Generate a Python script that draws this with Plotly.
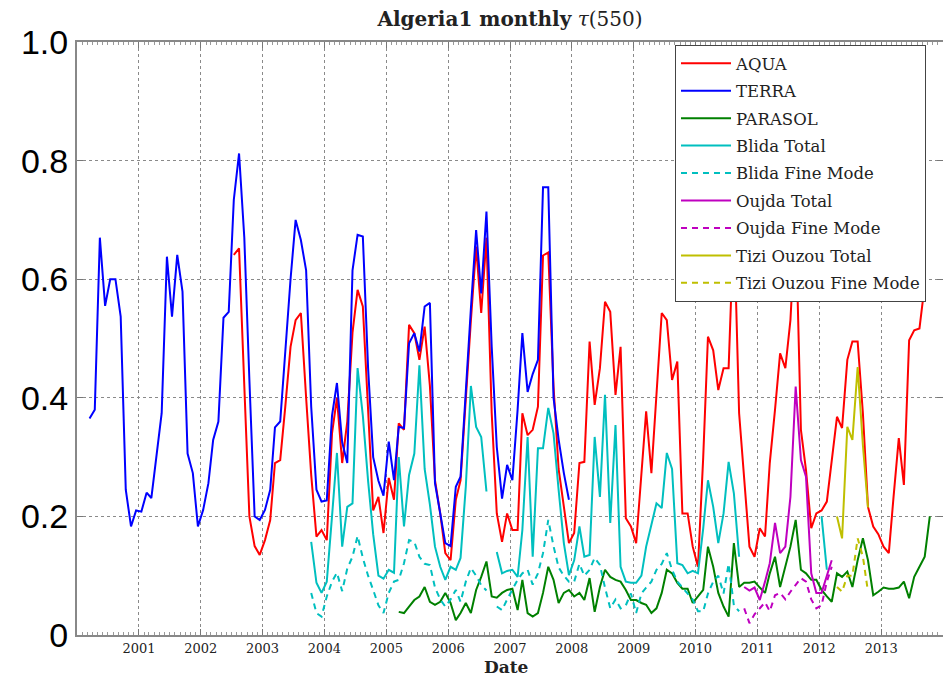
import plotly.graph_objects as go

# ---------------- data (monthly means) ----------------
TERRA_START = (2000, 3)
TERRA = [0.365, 0.38, 0.67, 0.555, 0.60, 0.60, 0.537, 0.245, 0.183, 0.21,
         0.208, 0.24, 0.231, 0.30, 0.374, 0.638, 0.537, 0.641, 0.579, 0.306, 0.273, 0.183,
         0.211, 0.256, 0.329, 0.36, 0.535, 0.545, 0.734, 0.812, 0.67, 0.43, 0.20, 0.194,
         0.211, 0.245, 0.35, 0.36, 0.486, 0.60, 0.70, 0.666, 0.615, 0.385, 0.245, 0.225,
         0.227, 0.37, 0.425, 0.325, 0.29, 0.615, 0.675, 0.672, 0.45, 0.30, 0.26, 0.235,
         0.326, 0.261, 0.351, 0.349, 0.492, 0.509, 0.478, 0.554, 0.56, 0.256, 0.205, 0.155,
         0.15, 0.25, 0.267, 0.418, 0.55, 0.683, 0.576, 0.714, 0.486, 0.317, 0.23, 0.287,
         0.261, 0.38, 0.509, 0.41, 0.44, 0.464, 0.755, 0.755, 0.40, 0.33, 0.273, 0.228]

AQUA_START = (2002, 7)
AQUA = [0.641, 0.652, 0.42, 0.20, 0.15, 0.135,
        0.16, 0.194, 0.29, 0.295, 0.385, 0.486, 0.531, 0.543, 0.40, 0.27, 0.166, 0.177,
        0.16, 0.34, 0.40, 0.29, 0.36, 0.51, 0.582, 0.554, 0.38, 0.21, 0.233, 0.172,
        0.265, 0.228, 0.357, 0.346, 0.523, 0.509, 0.464, 0.52, 0.42, 0.261, 0.205, 0.138,
        0.126, 0.228, 0.261, 0.402, 0.53, 0.655, 0.543, 0.67, 0.374, 0.205, 0.157, 0.205,
        0.177, 0.177, 0.374, 0.337, 0.346, 0.385, 0.64, 0.645, 0.42, 0.28, 0.216, 0.155,
        0.172, 0.29, 0.292, 0.495, 0.388, 0.45, 0.562, 0.545, 0.405, 0.486, 0.197, 0.183,
        0.155, 0.27, 0.377, 0.273, 0.41, 0.543, 0.531, 0.43, 0.461, 0.205, 0.205, 0.149,
        0.115, 0.30, 0.503, 0.48, 0.413, 0.45, 0.45, 0.70, 0.374, 0.261, 0.149, 0.132,
        0.18, 0.166, 0.29, 0.38, 0.475, 0.45, 0.531, 0.70, 0.346, 0.278, 0.18, 0.205,
        0.21, 0.225, 0.29, 0.368, 0.349, 0.464, 0.495, 0.495, 0.374, 0.216, 0.183, 0.17,
        0.149, 0.138, 0.233, 0.332, 0.253, 0.497, 0.514, 0.517, 0.59]

PARASOL_START = (2005, 3)
PARASOL = [0.039, 0.037, 0.048, 0.059, 0.065, 0.081, 0.056, 0.051, 0.056, 0.071,
           0.054, 0.025, 0.037, 0.054, 0.037, 0.076, 0.098, 0.124, 0.065, 0.063, 0.071, 0.076,
           0.078, 0.042, 0.093, 0.037, 0.031, 0.037, 0.071, 0.115, 0.093, 0.054, 0.071, 0.076,
           0.065, 0.071, 0.059, 0.096, 0.039, 0.081, 0.11, 0.098, 0.093, 0.09, 0.076, 0.059,
           0.059, 0.054, 0.051, 0.037, 0.045, 0.071, 0.11, 0.104, 0.088, 0.078, 0.078, 0.054,
           0.065, 0.076, 0.149, 0.115, 0.071, 0.048, 0.031, 0.155, 0.081, 0.088, 0.088, 0.09,
           0.08, 0.071, 0.104, 0.132, 0.081, 0.115, 0.149, 0.194, 0.11, 0.104, 0.093, 0.093,
           0.076, 0.065, 0.056, 0.104, 0.098, 0.107, 0.081, 0.126, 0.163, 0.126, 0.067, 0.073,
           0.08, 0.078, 0.078, 0.08, 0.09, 0.062, 0.098, 0.115, 0.132, 0.2]

BLIDA_START = (2003, 10)
BLIDA_TOTAL = [0.157, 0.088, 0.071,
               0.09, 0.2, 0.307, 0.149, 0.216, 0.222, 0.45, 0.37, 0.26, 0.17, 0.10, 0.095,
               0.11, 0.105, 0.30, 0.183, 0.27, 0.306, 0.455, 0.28, 0.22, 0.149, 0.115, 0.093,
               0.115, 0.11, 0.13, 0.25, 0.42, 0.351, 0.334, 0.242, None, 0.14, 0.104, 0.108,
               0.11, 0.098, 0.177, 0.334, 0.132, 0.315, 0.315, 0.383, 0.34, 0.245, 0.155, 0.101,
               0.126, 0.183, 0.132, 0.135, 0.334, 0.233, 0.405, 0.189, 0.354, 0.115, 0.09, 0.088,
               0.088, 0.1, 0.149, 0.186, 0.222, 0.214, 0.307, 0.28, 0.121, 0.118, 0.104, 0.108,
               0.104, 0.18, 0.261, 0.216, 0.155, 0.205, 0.292, 0.239, 0.132, None, None, None,
               None, None, None, None, None, None, None, None, None, None, None, None,
               0.2, 0.11]
BLIDA_FINE = [0.071, 0.037, 0.031,
              0.065, 0.09, 0.105, 0.074, 0.112, 0.132, 0.167, 0.13, 0.10, 0.076, 0.05, 0.037,
              0.071, 0.09, 0.093, 0.121, 0.16, 0.157, 0.132, 0.12, 0.118, 0.08, 0.06, 0.048,
              0.06, 0.076, 0.056, 0.09, 0.113, 0.10, 0.084, 0.075, None, 0.048, 0.042, 0.06,
              0.076, 0.093, 0.104, 0.11, 0.085, 0.104, 0.138, 0.194, 0.15, 0.114, 0.10, 0.09,
              0.09, 0.12, 0.10, 0.11, 0.13, 0.118, 0.08, 0.045, 0.06, 0.045, 0.05, 0.07,
              0.037, 0.07, 0.08, 0.09, 0.11, 0.12, 0.138, 0.11, 0.09, 0.08, 0.07, 0.06,
              0.04, 0.04, 0.07, 0.09, 0.10, 0.07, 0.12, 0.05, 0.04]

OUJDA_START = (2010, 10)
OUJDA_TOTAL = [0.081, 0.075, 0.08,
               0.059, 0.09, 0.121, 0.189, 0.138, 0.149, 0.233, 0.419, 0.295, 0.267, 0.104, 0.071,
               0.071, 0.10, 0.126]
OUJDA_FINE = [0.045, 0.02, 0.035,
              0.045, 0.055, 0.04, 0.067, 0.071, 0.06, 0.073, 0.085, 0.096, 0.09, 0.06, 0.045,
              0.05, 0.09, 0.115]

TIZI_START = (2012, 4)
TIZI_TOTAL = [0.2, 0.163, 0.351, 0.329, 0.452, 0.32, 0.215]
TIZI_FINE = [0.081, 0.073, 0.10, 0.10, 0.163, 0.132, 0.073]

Y_TICKS = [0, 0.2, 0.4, 0.6, 0.8, 1.0]
Y_TICK_LABELS = ["0", "0.2", "0.4", "0.6", "0.8", "1.0"]
YEARS = list(range(2000, 2015))
YEAR_LABELS = [""] + [str(y) for y in YEARS[1:]]


def months(start, n):
    y, m = start
    out = []
    for k in range(n):
        yy = y + (m - 1 + k) // 12
        mm = (m - 1 + k) % 12 + 1
        out.append(f"{yy:04d}-{mm:02d}-15")
    return out


SERIES = [
    ("AQUA", AQUA_START, AQUA, "#ff0000", "solid"),
    ("TERRA", TERRA_START, TERRA, "#0000ff", "solid"),
    ("PARASOL", PARASOL_START, PARASOL, "#008000", "solid"),
    ("Blida Total", BLIDA_START, BLIDA_TOTAL, "#00bfbf", "solid"),
    ("Blida Fine Mode", BLIDA_START, BLIDA_FINE, "#00bfbf", "6px,5px"),
    ("Oujda Total", OUJDA_START, OUJDA_TOTAL, "#bf00bf", "solid"),
    ("Oujda Fine Mode", OUJDA_START, OUJDA_FINE, "#bf00bf", "6px,5px"),
    ("Tizi Ouzou Total", TIZI_START, TIZI_TOTAL, "#bfbf00", "solid"),
    ("Tizi Ouzou Fine Mode", TIZI_START, TIZI_FINE, "#bfbf00", "6px,5px"),
]

SERIF = "DejaVu Serif"

fig = go.Figure()
for name, start, vals, color, dash in SERIES:
    fig.add_trace(go.Scatter(
        x=months(start, len(vals)), y=vals, mode="lines", name=name,
        legendgroup=name, connectgaps=False,
        line=dict(color=color, width=2, dash=dash),
    ))

# the page body adds an 8px offset; the figure is sized so that the plot
# area lands on x 77..943, y 42..635 of the browser window
OFF = 8
W, H = 951 - OFF, 677 - OFF
L, R, T, B = 77 - OFF, 8, 42 - OFF, 42
PW, PH = W - L - R, H - T - B

fig.update_layout(
    width=W, height=H,
    margin=dict(l=L, r=R, t=T, b=B, pad=0, autoexpand=False),
    paper_bgcolor="white", plot_bgcolor="white",
    title=dict(text="<b>Algeria1 monthly</b> <i>τ</i>(550)", x=(510 - OFF) / W, xanchor="center",
               y=1 - (19 - OFF) / H, yanchor="middle", yref="container",
               font=dict(family=SERIF, size=20, color="#222")),
    showlegend=True,
    legend=dict(x=(675 - 77) / PW, y=1 - (45 - 42) / PH,
                xanchor="left", yanchor="top",
                bgcolor="white", bordercolor="#444", borderwidth=1,
                font=dict(family=SERIF, size=16.5, color="#222"),
                tracegroupgap=3, itemwidth=50),
    xaxis=dict(
        type="date", range=["2000-01-01", "2014-01-01"], automargin=False,
        tickvals=[f"{y}-01-01" for y in YEARS],
        ticktext=YEAR_LABELS,
        tickfont=dict(family=SERIF, size=13, color="#222"),
        ticks="inside", ticklen=6, tickcolor="#777", tickwidth=1,
        minor=dict(dtick="M1", ticks="inside", ticklen=3, tickcolor="#999",
                   showgrid=False),
        showgrid=True, gridcolor="#8a8a8a", griddash="dot", gridwidth=1,
        showline=True, linecolor="#888", linewidth=2, mirror="allticks",
        zeroline=False,
    ),
    yaxis=dict(
        range=[0, 1.0], automargin=False,
        tickvals=Y_TICKS, ticktext=Y_TICK_LABELS,
        tickfont=dict(family="Liberation Sans", size=34, color="black"),
        ticks="inside", ticklen=6, tickcolor="#777",
        showgrid=True, gridcolor="#8a8a8a", griddash="dot", gridwidth=1,
        showline=True, linecolor="#888", linewidth=2, mirror="allticks",
        zeroline=False,
    ),
    annotations=[dict(text="<b>Date</b>", x=(506 - 77) / PW, y=-(655 - 635) / PH,
                      xref="paper", yref="paper", xanchor="center", yanchor="top",
                      showarrow=False, font=dict(family=SERIF, size=17, color="#222"))],
)

fig.write_html("out.html")
